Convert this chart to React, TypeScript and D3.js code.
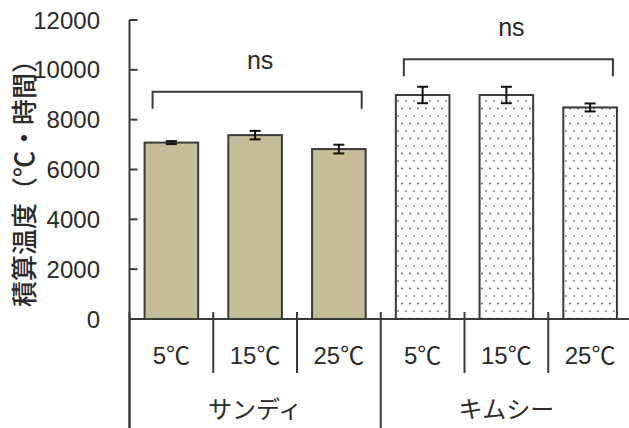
import React from "react";
import * as d3 from "d3";

// Cultivars, temperature treatments and measured accumulated temperature (°C·h)
const cultivars = ["サンディ", "キムシー"];
const temperatures = ["5℃", "15℃", "25℃"];
const sandyMeans = [7080, 7380, 6820];
const sandyErrors = [60, 170, 175];
const kimsyMeans = [8990, 8990, 8490];
const kimsyErrors = [330, 330, 160];
const significance = ["ns", "ns"];
const bracketLevels = [9120, 10420];
const yTicks = [0, 2000, 4000, 6000, 8000, 10000, 12000];
const yTitle = "積算温度（℃・時間）";

const W = 629;
const H = 428;
const FONT = "'Liberation Sans', Arial, 'Noto Sans CJK JP', sans-serif";
const CJK = "'Noto Sans CJK JP', sans-serif";
const INK = "#2a2a2a";
const LINE = "#3a3a3a";
const TAN = "#c4bd97";

type Bar = { key: string; group: number; temp: string; value: number; err: number };

const bars: Bar[] = [
  ...temperatures.map((t, i) => ({ key: `0-${t}`, group: 0, temp: t, value: sandyMeans[i], err: sandyErrors[i] })),
  ...temperatures.map((t, i) => ({ key: `1-${t}`, group: 1, temp: t, value: kimsyMeans[i], err: kimsyErrors[i] })),
];

export default function App() {
  const axisX = 129.5;
  const x = d3
    .scaleBand<string>()
    .domain(bars.map((b) => b.key))
    .range([axisX, 632])
    .paddingInner(0.36)
    .paddingOuter(0.18);
  const y = d3.scaleLinear().domain([0, 12000]).range([319, 20]);
  const step = x.step();
  const bw = x.bandwidth();
  const baseY = y(0);

  // category boundaries along the x axis
  const bounds = d3.range(bars.length + 1).map((i) => axisX + i * step);

  return (
    <div style={{ position: "absolute", left: 0, top: 0 }}>
      <svg width={W} height={H} style={{ display: "block", background: "#fff" }}>
        <defs>
          <pattern id="dots" width={8} height={15} patternUnits="userSpaceOnUse">
            <rect width={8} height={15} fill="#fff" />
            <circle cx={2} cy={3.5} r={1} fill="#666" />
            <circle cx={6} cy={11} r={1} fill="#888" />
          </pattern>
        </defs>

        {/* y axis title */}
        <text
          transform={`translate(22,177) rotate(-90)`}
          textAnchor="middle"
          dominantBaseline="central"
          fontFamily={CJK}
          fontSize={26}
          fontWeight={500}
          fill={INK}
        >
          {yTitle}
        </text>

        {/* y ticks and labels */}
        {yTicks.map((t) => (
          <g key={t}>
            <line x1={axisX} x2={axisX + 8} y1={y(t)} y2={y(t)} stroke={LINE} strokeWidth={2} />
            <text
              x={100}
              y={y(t)}
              textAnchor="end"
              dominantBaseline="central"
              fontFamily={FONT}
              fontSize={24}
              fill={INK}
            >
              {t}
            </text>
          </g>
        ))}

        {/* bars */}
        {bars.map((b) => (
          <rect
            key={b.key}
            x={x(b.key)}
            y={y(b.value)}
            width={bw}
            height={baseY - y(b.value)}
            fill={b.group === 0 ? TAN : "url(#dots)"}
            stroke={LINE}
            strokeWidth={2}
          />
        ))}

        {/* error bars */}
        {bars.map((b) => {
          const cx = (x(b.key) as number) + bw / 2;
          const top = y(b.value + b.err);
          const bot = y(b.value - b.err);
          return (
            <g key={`e-${b.key}`} stroke="#111" strokeWidth={2}>
              <line x1={cx} x2={cx} y1={top} y2={bot} />
              <line x1={cx - 5.5} x2={cx + 5.5} y1={top} y2={top} />
              <line x1={cx - 5.5} x2={cx + 5.5} y1={bot} y2={bot} />
            </g>
          );
        })}

        {/* significance brackets */}
        {cultivars.map((c, gi) => {
          const first = bars.filter((b) => b.group === gi);
          const x0 = (x(first[0].key) as number) + 8;
          const x1 = (x(first[first.length - 1].key) as number) + bw - 4;
          const yb = y(bracketLevels[gi]);
          return (
            <g key={`br-${c}`}>
              <path
                d={`M${x0},${yb + 17}V${yb}H${x1}V${yb + 17}`}
                fill="none"
                stroke={LINE}
                strokeWidth={2}
              />
              <text
                x={(x0 + x1) / 2 + 3}
                y={yb - 23}
                textAnchor="middle"
                fontFamily={FONT}
                fontSize={25}
                fill={INK}
              >
                {significance[gi]}
              </text>
            </g>
          );
        })}

        {/* axes */}
        <line x1={axisX} x2={axisX} y1={y(12000)} y2={H} stroke={LINE} strokeWidth={2} />
        <line x1={axisX} x2={W} y1={baseY} y2={baseY} stroke={LINE} strokeWidth={2} />

        {/* category separators */}
        {bounds.map((bx, i) => {
          const isGroup = i % temperatures.length === 0;
          return (
            <line
              key={`s-${i}`}
              x1={bx}
              x2={bx}
              y1={baseY - 7}
              y2={isGroup ? H : 373}
              stroke={LINE}
              strokeWidth={2}
            />
          );
        })}

        {/* temperature labels */}
        {bars.map((b) => (
          <text
            key={`t-${b.key}`}
            x={(x(b.key) as number) + bw / 2}
            y={355}
            textAnchor="middle"
            dominantBaseline="central"
            fontFamily={FONT}
            fontSize={24}
            fill={INK}
          >
            {b.temp}
          </text>
        ))}

        {/* cultivar labels */}
        {cultivars.map((c, gi) => (
          <text
            key={`c-${c}`}
            x={axisX + step * temperatures.length * (gi + 0.5)}
            y={407}
            textAnchor="middle"
            dominantBaseline="central"
            fontFamily={CJK}
            fontSize={24}
            fill={INK}
          >
            {c}
          </text>
        ))}
      </svg>
    </div>
  );
}
